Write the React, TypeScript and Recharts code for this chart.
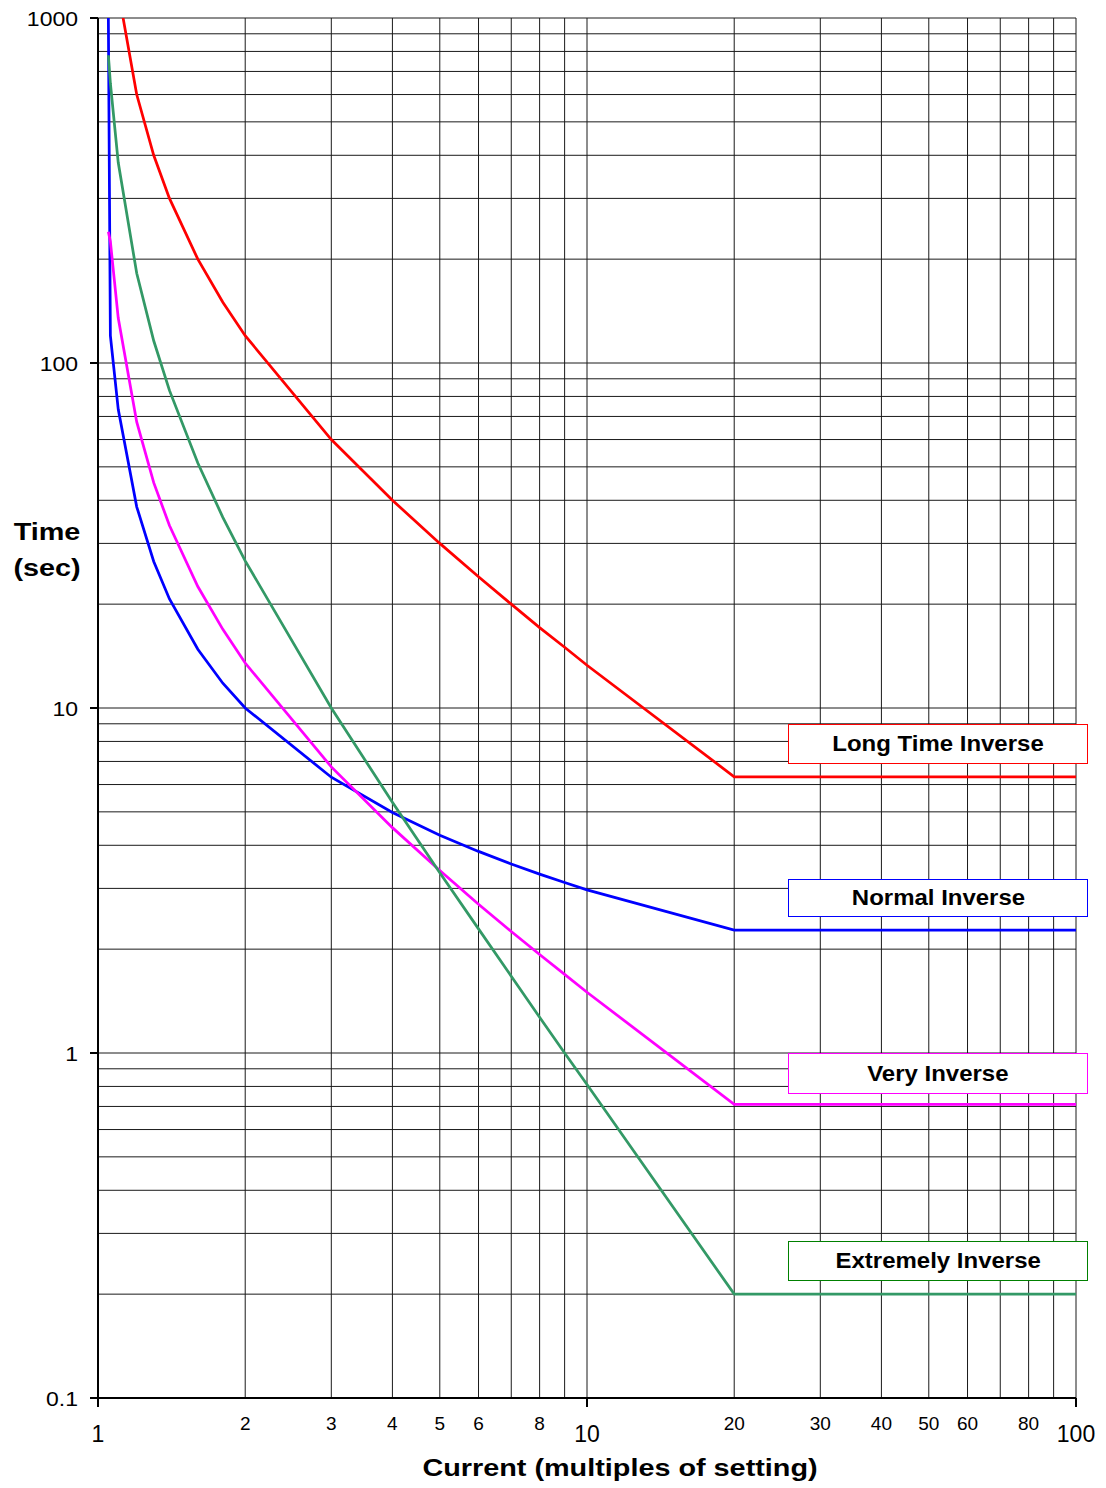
import React from "react";
import { LineChart, Line, XAxis, YAxis, CartesianGrid } from "recharts";

const currentMultiples = [1.05, 1.06, 1.1, 1.2, 1.3, 1.4, 1.6, 1.8, 2, 3, 4, 5, 6, 7, 8, 9, 10, 20, 100];
const longTimeInverse = [2400, 2000, 1200, 600, 400, 300, 200, 150, 120, 60, 40, 30, 24, 20, 17.1, 15, 13.3, 6.32, 6.32];
const normalInverse = [1000, 120, 73.4, 38.3, 26.6, 20.7, 14.8, 11.8, 10.0, 6.3, 4.98, 4.28, 3.84, 3.53, 3.3, 3.12, 2.97, 2.27, 2.27];
const veryInverse = [240, 225, 135, 67.5, 45, 33.8, 22.5, 16.9, 13.5, 6.75, 4.5, 3.38, 2.7, 2.25, 1.93, 1.69, 1.5, 0.71, 0.71];
const extremelyInverse = [780, 647, 381, 182, 116, 83.3, 51.3, 35.7, 26.7, 10, 5.33, 3.33, 2.29, 1.67, 1.27, 1.0, 0.81, 0.2, 0.2];

const xTicks = [1, 2, 3, 4, 5, 6, 7, 8, 9, 10, 20, 30, 40, 50, 60, 70, 80, 90, 100];
const xBigLabels = [1, 10, 100];
const xSmallLabels = [2, 3, 4, 5, 6, 8, 20, 30, 40, 50, 60, 80];
const yTicks = [
  0.1, 0.2, 0.3, 0.4, 0.5, 0.6, 0.7, 0.8, 0.9,
  1, 2, 3, 4, 5, 6, 7, 8, 9,
  10, 20, 30, 40, 50, 60, 70, 80, 90,
  100, 200, 300, 400, 500, 600, 700, 800, 900, 1000,
];
const yLabels = [0.1, 1, 10, 100, 1000];

const series = [
  { key: "lti", name: "Long Time Inverse", values: longTimeInverse, color: "#ff0000", border: "#ff0000", boxTop: 724, boxH: 40 },
  { key: "ni", name: "Normal Inverse", values: normalInverse, color: "#0000ff", border: "#0000ff", boxTop: 879, boxH: 38 },
  { key: "vi", name: "Very Inverse", values: veryInverse, color: "#ff00ff", border: "#ff00ff", boxTop: 1053, boxH: 41 },
  { key: "ei", name: "Extremely Inverse", values: extremelyInverse, color: "#339966", border: "#008000", boxTop: 1241, boxH: 40 },
];

const data = currentMultiples.map((x, i) => {
  const row: any = { x };
  series.forEach((s) => (row[s.key] = s.values[i]));
  return row;
});

const FONT = "'Liberation Sans', Arial, sans-serif";

const XTick = (props: any) => {
  const { x, y, payload } = props;
  const v = payload.value;
  if (xBigLabels.includes(v)) {
    return (
      <g>
        <line x1={x} y1={y} x2={x} y2={y + 9} stroke="#000" strokeWidth={2} />
        <text x={x} y={y + 44} textAnchor="middle" fontSize={23} fontFamily={FONT} fill="#000">{v}</text>
      </g>
    );
  }
  if (xSmallLabels.includes(v)) {
    return <text x={x} y={y + 32} textAnchor="middle" fontSize={19} fontFamily={FONT} fill="#000">{v}</text>;
  }
  return null;
};

const YTick = (props: any) => {
  const { x, y, payload } = props;
  const v = payload.value;
  if (!yLabels.includes(v)) return null;
  return (
    <g>
      <line x1={x - 8} y1={y} x2={x} y2={y} stroke="#000" strokeWidth={2} />
      <g transform={`translate(${x - 20},${y + 8}) scale(1.15,1)`}>
        <text x={0} y={0} textAnchor="end" fontSize={20} fontFamily={FONT} fill="#000">{v}</text>
      </g>
    </g>
  );
};

export default function App() {
  return (
    <div style={{ position: "absolute", left: 0, top: 0, width: 1106, height: 1488, background: "#fff", fontFamily: FONT }}>
      <LineChart width={1106} height={1488} data={data} margin={{ top: 18, right: 30, bottom: 0, left: 0 }}>
        <CartesianGrid stroke="#1a1a1a" strokeWidth={1} />
        <XAxis
          dataKey="x"
          type="number"
          scale="log"
          domain={[1, 100]}
          ticks={xTicks}
          interval={0}
          allowDataOverflow
          height={90}
          tickLine={false}
          tickSize={0}
          tickMargin={0}
          axisLine={{ stroke: "#000", strokeWidth: 2 }}
          tick={<XTick />}
        />
        <YAxis
          type="number"
          scale="log"
          domain={[0.1, 1000]}
          ticks={yTicks}
          interval={0}
          allowDataOverflow
          width={98}
          tickLine={false}
          tickSize={0}
          tickMargin={0}
          axisLine={{ stroke: "#000", strokeWidth: 2 }}
          tick={<YTick />}
        />
        {series.map((s) => (
          <Line
            key={s.key}
            dataKey={s.key}
            stroke={s.color}
            strokeWidth={2.75}
            dot={false}
            type="linear"
            isAnimationActive={false}
          />
        ))}
      </LineChart>
      {series.map((s) => (
        <div
          key={s.key}
          style={{
            position: "absolute",
            left: 788,
            top: s.boxTop,
            width: 298,
            height: s.boxH - 2,
            border: `1px solid ${s.border}`,
            background: "#fff",
            display: "flex",
            alignItems: "center",
            justifyContent: "center",
            fontWeight: "bold",
            fontSize: 22,
            color: "#000",
          }}
        >
          <span style={{ display: "inline-block", transform: "scaleX(1.09)" }}>{s.name}</span>
        </div>
      ))}
      <div style={{ position: "absolute", left: 0, width: 94, top: 514, textAlign: "center", fontWeight: "bold", fontSize: 24, lineHeight: "36px", transform: "scaleX(1.2)" }}>
        Time
        <br />
        (sec)
      </div>
      <div style={{ position: "absolute", left: 98, width: 1044, top: 1452, textAlign: "center", fontWeight: "bold", fontSize: 24, lineHeight: "32px", transform: "scaleX(1.2)" }}>
        Current (multiples of setting)
      </div>
    </div>
  );
}
